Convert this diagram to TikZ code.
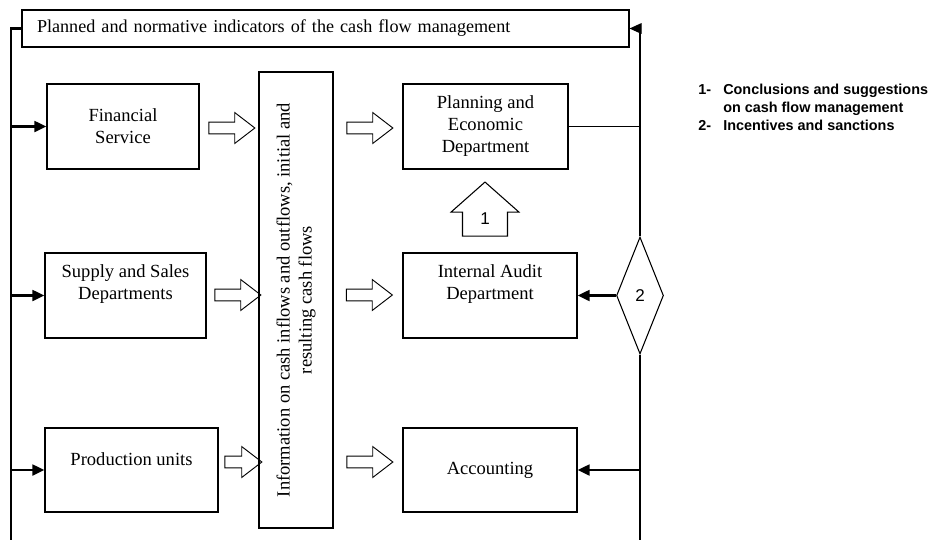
\documentclass[tikz,border=0pt]{standalone}
\usepackage{fontspec}
\setmainfont{Liberation Serif}
\newfontfamily\legendfont{Liberation Sans}
\usetikzlibrary{arrows.meta,shapes.geometric,shapes.arrows}

\begin{document}
\begin{tikzpicture}[x=0.75pt,y=-0.75pt,
    font=\fontsize{13.9}{16.5}\selectfont,
    box/.style={draw,line width=0.8pt,align=center,inner sep=0pt},
    flow/.style={single arrow,draw,line width=0.7pt,inner xsep=0pt,inner ysep=4.1pt,
      minimum width=15pt,minimum height=34.5pt,single arrow tip angle=75},
    digit/.style={font=\legendfont\fontsize{12.8}{14}\selectfont},
    thickline/.style={line width=2pt},
    thinline/.style={line width=0.8pt},
    solidhead/.style={-{Triangle[length=9pt,width=8pt]}}]
    \useasboundingbox (0,0) rectangle (931,540);

    % Header
    \node[box,text width=432.75pt,inner xsep=11.25pt,minimum height=27.75pt,align=left,
      font=\fontsize{13.6}{16.5}\selectfont]
      (header) at (325.5,28.5) {Planned and normative indicators of the cash flow management};

    % Left column
    \node[box,minimum width=114pt,minimum height=63.75pt] (fin) at (123,126.5) {Financial\\Service};
    \node[box,minimum width=120.75pt,minimum height=63.75pt] (supply) at (125.5,295.5) {};
    \node[align=center] (supplytext) at (125.5,284) {Supply and Sales\\Departments};
    \node[box,minimum width=129.75pt,minimum height=63pt] (prod) at (131.5,470) {};
    \node (prodtext) at (131.5,459) {Production units};

    % Information column
    \node[box,rotate=90,minimum width=342pt,minimum height=55.5pt] (info) at (296,300)
      {Information on cash inflows and outflows, initial and\\resulting cash flows};

    % Right column
    \node[box,minimum width=123.75pt,minimum height=63.75pt] (plan) at (485.5,126.5) {Planning and\\Economic\\Department};
    \node[box,minimum width=130.5pt,minimum height=63.75pt] (audit) at (490,295.5) {};
    \node[align=center] (audittext) at (490,284) {Internal Audit\\Department};
    \node[box,minimum width=130.5pt,minimum height=63pt] (acc) at (490,470) {Accounting};

    % Open arrows
    \node[flow] (finflow) at (228,128) {};
    \node[flow] (planflow) at (366,128) {};
    \node[flow] (supplyflow) at (234,295) {};
    \node[flow] (auditflow) at (365.5,295) {};
    \node[flow,minimum height=27.75pt] (prodflow) at (239.5,462) {};
    \node[flow] (accflow) at (366,462) {};

    % Feedback 1 and 2
    \node[single arrow,draw,line width=0.8pt,shape border rotate=90,inner sep=0pt,
      text width=27pt,align=center,minimum height=40.5pt,minimum width=51pt,
      single arrow tip angle=97,digit] (one) at (485,219) {1};
    \node[diamond,draw,line width=0.8pt,inner sep=0pt,minimum width=35.25pt,
      minimum height=87.75pt,digit] (two) at (640,295.5) {2};

    % Left line
    \coordinate (lefttop) at (11,28.5);
    \coordinate (leftbot) at (11,540);
    \draw[thickline] (header.west) -- (lefttop) -- (lefttop |- prod.west);
    \draw[thinline] (lefttop |- prod.west) -- (leftbot);
    \draw[thickline,solidhead] (lefttop |- fin.west) -- (fin.west);
    \draw[thickline,solidhead] (lefttop |- supply.west) -- (supply.west);
    \draw[thickline,solidhead] (lefttop |- prod.west) -- (prod.west);

    % Right line
    \coordinate (righttop) at (header.east -| two);
    \coordinate (rightbot) at (640,540);
    \draw[thinline,-{Triangle[length=9pt,width=8pt]}] (two.north) -- (righttop) -- (header.east);
    \draw[thinline] (plan.east) -- (plan.east -| two);
    \draw[thickline,solidhead] (two.west) -- (audit.east);
    \draw[thickline,solidhead] (two.south) -- (two.south |- acc.east) -- (acc.east);
    \draw[thinline] (two.south |- acc.east) -- (rightbot);

    % Legend
    \node[anchor=north west,inner sep=0pt,font=\legendfont\bfseries\fontsize{10.8}{13.5}\selectfont]
      (legend) at (698,82) {\begin{tabular}{@{}p{18.75pt}@{}l@{}}
        1- & Conclusions and suggestions\\
           & on cash flow management\\
        2- & Incentives and sanctions
      \end{tabular}};

\end{tikzpicture}
\end{document}
